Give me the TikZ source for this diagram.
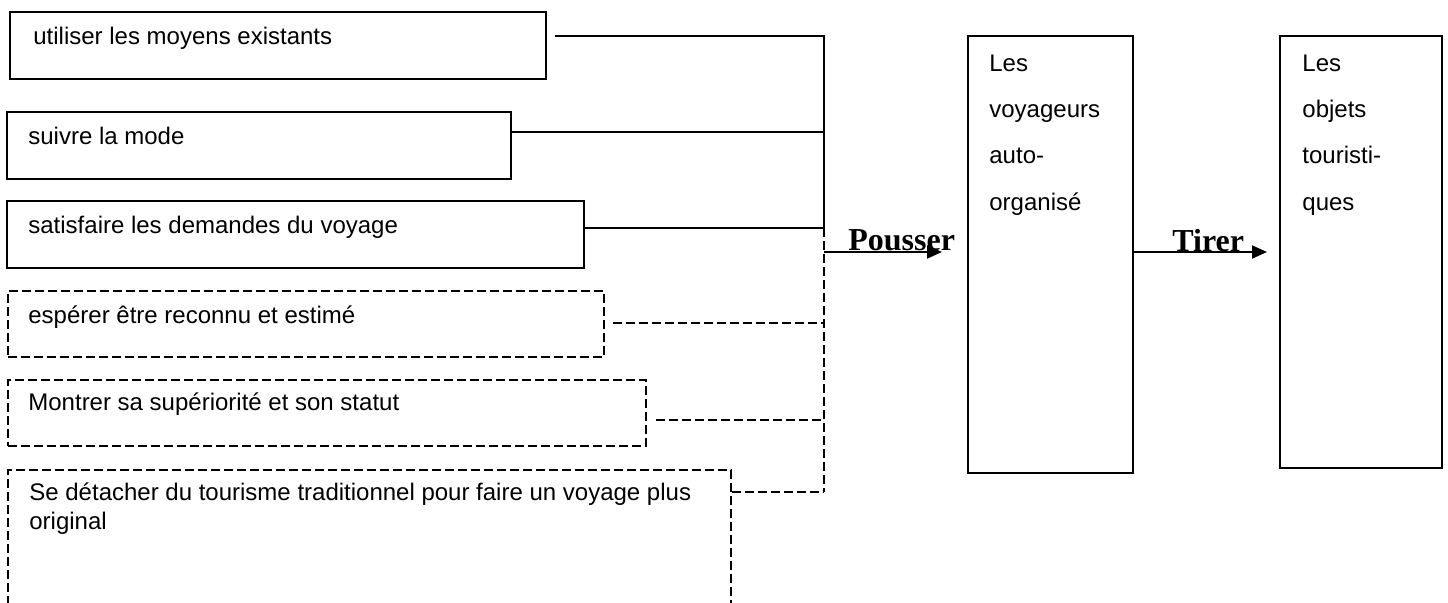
\documentclass[tikz,border=0pt]{standalone}
\usepackage{fontspec}
\setmainfont{Liberation Sans}
\newfontfamily\serifbold{Liberation Serif}
\usetikzlibrary{arrows.meta,fit}
\begin{document}
\begin{tikzpicture}[x=0.5pt,y=-0.5pt,
  box/.style={draw, line width=1pt, inner sep=0pt, rectangle},
  dbox/.style={box, dash pattern=on 4.5pt off 2pt},
  lbl/.style={inner sep=0pt, anchor=base west, font=\fontsize{12pt}{13.8pt}\selectfont},
  big/.style={inner sep=0pt, anchor=base west, font=\fontsize{16pt}{18pt}\serifbold\bfseries\selectfont},
  conn/.style={line width=1pt},
  dconn/.style={conn, dash pattern=on 4.5pt off 2pt},
  arr/.style={conn, -{Triangle[length=7.5pt,width=6.5pt]}}
]
\useasboundingbox (0,0) rectangle (1448,602);
\clip (0,0) rectangle (1448,602);

% left boxes
\node[box,  fit={(10,12) (546,79)}]   (b1) {};
\node[box,  fit={(7,112) (511,179)}]  (b2) {};
\node[box,  fit={(7,201) (584,268)}]  (b3) {};
\node[dbox, fit={(8,291) (604,357)}]  (b4) {};
\node[dbox, fit={(8,380) (646,446)}]  (b5) {};
\node[dbox, fit={(8,470) (731,640)}]  (b6) {};

\node[lbl] (t1) at (33,44)  {utiliser les moyens existants};
\node[lbl] (t2) at (28,144) {suivre la mode};
\node[lbl] (t3) at (28,233) {satisfaire les demandes du voyage};
\node[lbl] (t4) at (28,323) {espérer être reconnu et estimé};
\node[lbl] (t5) at (28,410) {Montrer sa supériorité et son statut};
\node[lbl] (t6a) at (29,500) {Se détacher du tourisme traditionnel pour faire un voyage plus};
\node[lbl] (t6b) at (29,529) {original};

% right boxes
\node[box, fit={(968,36) (1133,473)}]  (voy) {};
\node[box, fit={(1280,36) (1442,468)}] (obj) {};

\node[lbl] (v1) at (989,71)  {Les};
\node[lbl] (v2) at (989,117) {voyageurs};
\node[lbl] (v3) at (989,163) {auto-};
\node[lbl] (v4) at (989,210) {organisé};

\node[lbl] (o1) at (1302,71)  {Les};
\node[lbl] (o2) at (1302,117) {objets};
\node[lbl] (o3) at (1302,163) {touristi-};
\node[lbl] (o4) at (1302,210) {ques};

% junctions
\coordinate (j1) at (824,36);
\coordinate (j2) at (824,132);
\coordinate (j3) at (824,228);
\coordinate (j4) at (824,323);
\coordinate (j5) at (824,420);
\coordinate (j6) at (824,492);
\coordinate (p0) at (824,252);

\draw[conn, shorten <=4pt] (b1.east |- j1) -- (j1) -- (j3);
\draw[conn] (b2.east |- j2) -- (j2);
\draw[conn] (b3.east |- j3) -- (j3);
\draw[dconn] (j3) -- (j6);
\draw[dconn, shorten <=4pt] (b4.east |- j4) -- (j4);
\draw[dconn, shorten <=4.5pt] (b5.east |- j5) -- (j5);
\draw[dconn] (b6.east |- j6) -- (j6);

% arrows
\draw[arr, shorten >=12.5pt] (p0) -- (voy.west |- p0);
\draw[arr, shorten >=6pt] (voy.east |- p0) -- (obj.west |- p0);
\node[big] (push) at (848,250) {Pousser};
\node[big] (pull) at (1172,251) {Tirer};
\end{tikzpicture}
\end{document}
